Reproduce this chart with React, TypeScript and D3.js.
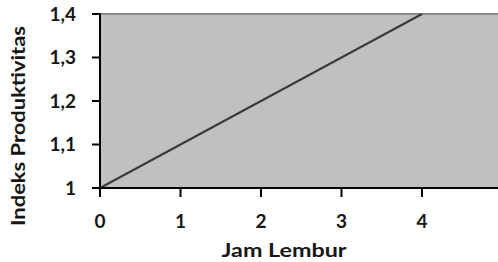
import React, { useEffect, useRef } from "react";
import * as d3 from "d3";

const jamLembur = [0, 1, 2, 3, 4];
const indeksProduktivitas = [1, 1.1, 1.2, 1.3, 1.4];
const xTicks = [0, 1, 2, 3, 4];
const yTicks = [1, 1.1, 1.2, 1.3, 1.4];

const W = 498, H = 262;
const M = { left: 100, top: 14, bottom: 188 };

export default function App() {
  const ref = useRef<SVGSVGElement>(null);
  useEffect(() => {
    const svg = d3.select(ref.current);
    svg.selectAll("*").remove();
    const x = d3.scaleLinear().domain([0, 4]).range([M.left, 422]);
    const y = d3.scaleLinear().domain([1, 1.4]).range([M.bottom, M.top]);
    const font = "Lato, 'Open Sans', sans-serif";
    const ink = "#161616";

    svg.append("rect").attr("x", x(0)).attr("y", y(1.4)).attr("width", W - x(0)).attr("height", y(1) - y(1.4)).attr("fill", "#c0c0c0");
    svg.append("line").attr("x1", x(0)).attr("x2", W).attr("y1", y(1.4)).attr("y2", y(1.4)).attr("stroke", "#8a8a8a").attr("stroke-width", 2);

    const data = jamLembur.map((v, i) => [v, indeksProduktivitas[i]] as [number, number]);
    svg.append("path").datum(data)
      .attr("d", d3.line<[number, number]>().x(d => x(d[0])).y(d => y(d[1])))
      .attr("fill", "none").attr("stroke", "#3a3a3a").attr("stroke-width", 2);

    // y axis
    svg.append("line").attr("x1", x(0)).attr("x2", x(0)).attr("y1", y(1.4) - 1).attr("y2", y(1) + 1).attr("stroke", "#000").attr("stroke-width", 2);
    yTicks.forEach(t => {
      svg.append("line").attr("x1", x(0) - 8).attr("x2", x(0)).attr("y1", y(t)).attr("y2", y(t)).attr("stroke", "#000").attr("stroke-width", 2);
      svg.append("text").attr("x", 76).attr("y", y(t) + 6.5).attr("text-anchor", "end")
        .attr("font-family", font).attr("font-weight", "bold").attr("font-size", 19).attr("fill", ink)
        .text(t === 1 ? "1" : d3.format(".1f")(t).replace(".", ","));
    });
    // x axis
    svg.append("line").attr("x1", x(0) - 8).attr("x2", W).attr("y1", y(1)).attr("y2", y(1)).attr("stroke", "#000").attr("stroke-width", 2);
    xTicks.forEach(t => {
      svg.append("line").attr("x1", x(t)).attr("x2", x(t)).attr("y1", y(1)).attr("y2", y(1) + 9).attr("stroke", "#000").attr("stroke-width", 2);
      svg.append("text").attr("x", x(t)).attr("y", 228).attr("text-anchor", "middle")
        .attr("font-family", font).attr("font-weight", "bold").attr("font-size", 19).attr("fill", ink)
        .text(String(t));
    });
    svg.append("text").attr("x", 284).attr("y", 257).attr("text-anchor", "middle")
      .attr("textLength", 125).attr("lengthAdjust", "spacingAndGlyphs")
      .attr("font-family", font).attr("font-weight", "bold").attr("font-size", 19).attr("fill", ink)
      .text("Jam Lembur");
    svg.append("text").attr("transform", `translate(25,126) rotate(-90)`).attr("text-anchor", "middle")
      .attr("textLength", 200).attr("lengthAdjust", "spacingAndGlyphs")
      .attr("font-family", font).attr("font-weight", "bold").attr("font-size", 19).attr("fill", ink)
      .text("Indeks Produktivitas");
  }, []);
  return <svg ref={ref} width={W} height={H} style={{ position: "absolute", left: 0, top: 0, background: "#fff" }} />;
}
